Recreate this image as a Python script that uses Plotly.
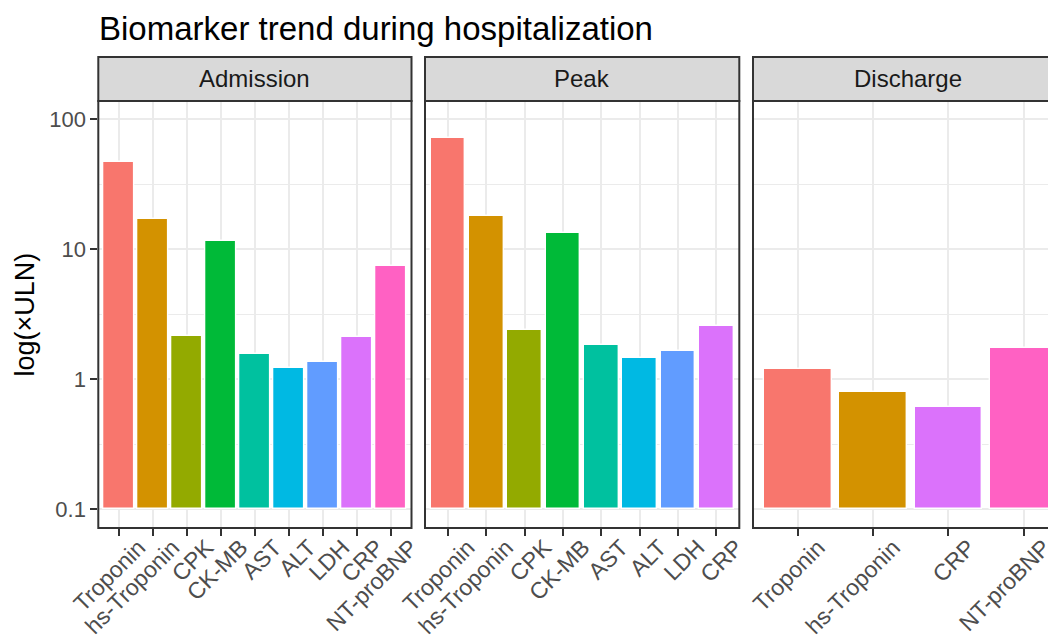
import plotly.graph_objects as go

# ---- data ----
admission_markers = ["Troponin", "hs-Troponin", "CPK", "CK-MB", "AST", "ALT", "LDH", "CRP", "NT-proBNP"]
admission_values = [47, 17, 2.15, 11.5, 1.55, 1.22, 1.34, 2.09, 7.45]

peak_markers = ["Troponin", "hs-Troponin", "CPK", "CK-MB", "AST", "ALT", "LDH", "CRP"]
peak_values = [71.5, 17.9, 2.38, 13.3, 1.83, 1.44, 1.64, 2.54]

discharge_markers = ["Troponin", "hs-Troponin", "CRP", "NT-proBNP"]
discharge_values = [1.19, 0.80, 0.61, 1.73]

panel_titles = ["Admission", "Peak", "Discharge"]
y_tick_vals = [0.1, 1, 10, 100]
y_tick_text = ["0.1", "1", "10", "100"]
y_minor_vals = [0.316, 3.16, 31.6]
bar_base = 0.1

marker_colors = {
    "Troponin": "#F8766D", "hs-Troponin": "#D39200", "CPK": "#93AA00",
    "CK-MB": "#00BA38", "AST": "#00C19F", "ALT": "#00B9E3",
    "LDH": "#619CFF", "CRP": "#DB72FB", "NT-proBNP": "#FF61C3",
}

# ---- layout geometry (pixels in the 1056x642 window) ----
OFF = 8  # default body margin of the html page
W, H = 1056 - OFF, 642 - OFF
FONT = "Liberation Sans, Arial, sans-serif"
panels_px = [(98.3, 411.5), (425.0, 739.3), (753.0, 1056.0)]
panel_top, panel_bot = 101.0, 528.0
strip_top = 57.0
x_ranges = [[-0.6, 8.6], [-0.6, 7.6], [-0.6, 3.43]]

def px(x):
    return (x - OFF) / W

def py(y):
    return 1 - (y - OFF) / H

fig = go.Figure()
panels = [(admission_markers, admission_values),
          (peak_markers, peak_values),
          (discharge_markers, discharge_values)]

for i, (cats, vals) in enumerate(panels):
    sfx = "" if i == 0 else str(i + 1)
    fig.add_trace(go.Bar(
        x=cats, y=[v - bar_base for v in vals], base=bar_base,
        width=0.9,
        marker=dict(color=[marker_colors[c] for c in cats],
                    line=dict(color="white", width=1.4)),
        xaxis="x" + sfx, yaxis="y" + sfx, showlegend=False,
        hovertext=[f"{c}: {v}" for c, v in zip(cats, vals)], hoverinfo="text",
    ))
    x0, x1 = panels_px[i]
    fig.update_layout(**{
        "xaxis" + sfx: dict(
            domain=[px(x0), min(1.0, px(x1))], anchor="y" + sfx,
            type="category", range=x_ranges[i], categoryorder="array", categoryarray=cats,
            showgrid=True, gridcolor="#EBEBEB", gridwidth=1.5,
            ticks="outside", ticklen=7, tickwidth=1.5, tickcolor="#333333",
            tickangle=-45, tickfont=dict(family=FONT, size=23, color="#4D4D4D"),
            ticklabelshift=20, ticklabelstandoff=-11,
            showline=False, zeroline=False, automargin=False, fixedrange=True,
        ),
        "yaxis" + sfx: dict(
            domain=[py(panel_bot), py(panel_top)], anchor="x" + sfx,
            type="log", range=[-1.146, 2.138],
            tickmode="array", tickvals=y_tick_vals, ticktext=y_tick_text,
            showticklabels=(i == 0),
            ticks="outside" if i == 0 else "", ticklen=7, tickwidth=1.5, tickcolor="#333333",
            tickfont=dict(family=FONT, size=22, color="#4D4D4D"),
            showgrid=True, gridcolor="#EBEBEB", gridwidth=1.5,
            minor=dict(tickmode="array", tickvals=y_minor_vals, showgrid=True,
                       gridcolor="#EBEBEB", gridwidth=1, ticks=""),
            showline=False, zeroline=False, automargin=False, fixedrange=True,
        ),
    })

shapes = []
annotations = []
for i, (x0, x1) in enumerate(panels_px):
    xr = px(x1) if i < 2 else 1.03
    # strip
    shapes.append(dict(type="rect", xref="paper", yref="paper",
                       x0=px(x0), x1=xr, y0=py(panel_top), y1=py(strip_top),
                       fillcolor="#D9D9D9", line=dict(color="#333333", width=2), layer="above"))
    # panel border
    shapes.append(dict(type="rect", xref="paper", yref="paper",
                       x0=px(x0), x1=xr, y0=py(panel_bot), y1=py(panel_top),
                       fillcolor="rgba(0,0,0,0)", line=dict(color="#333333", width=2), layer="above"))
    cx = (x0 + x1) / 2 if i < 2 else 908.0
    annotations.append(dict(text=panel_titles[i], xref="paper", yref="paper",
                            x=px(cx), y=py((strip_top + panel_top) / 2),
                            xanchor="center", yanchor="middle", showarrow=False,
                            font=dict(family=FONT, size=24, color="#1A1A1A")))

annotations.append(dict(text="Biomarker trend during hospitalization", xref="paper", yref="paper",
                        x=px(97), y=1.0, xanchor="left", yanchor="top", showarrow=False,
                        font=dict(family=FONT, size=33, color="#000000")))
annotations.append(dict(text="log(×ULN)", xref="paper", yref="paper",
                        x=px(24), y=py((panel_top + panel_bot) / 2), textangle=-90,
                        xanchor="center", yanchor="middle", showarrow=False,
                        font=dict(family=FONT, size=27, color="#000000")))

fig.update_layout(
    width=W, height=H, margin=dict(l=0, r=0, t=0, b=0),
    paper_bgcolor="white", plot_bgcolor="white",
    shapes=shapes, annotations=annotations, bargap=0,
)

fig.write_html("out.html")
